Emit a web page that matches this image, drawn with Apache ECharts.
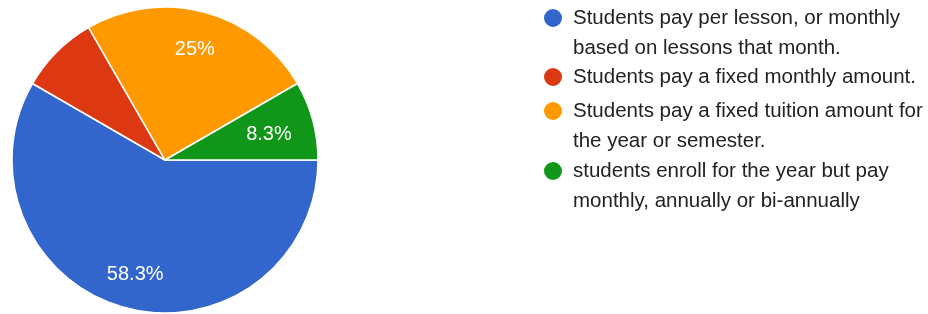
<!DOCTYPE html>
<html><head><meta charset="utf-8">
<script src="https://cdn.jsdelivr.net/npm/echarts@6/dist/echarts.min.js"></script>
<style>html,body{margin:0;padding:0;background:#fff}#c{width:928px;height:314px}</style>
</head><body><div id="c"></div><script>
const categories = [
  'Students pay per lesson, or monthly based on lessons that month.',
  'Students pay a fixed monthly amount.',
  'Students pay a fixed tuition amount for the year or semester.',
  'students enroll for the year but pay monthly, annually or bi-annually'
];
const legendLines = [
  ['Students pay per lesson, or monthly', 'based on lessons that month.'],
  ['Students pay a fixed monthly amount.'],
  ['Students pay a fixed tuition amount for', 'the year or semester.'],
  ['students enroll for the year but pay', 'monthly, annually or bi-annually']
];
const values = [7, 1, 3, 1];
const colors = ['#3366cc', '#dc3912', '#ff9900', '#109618'];
const showSliceLabel = [true, false, true, true];

const LINE_H = 30;
const iconCenters = [18, 77, 111, 171];
const FONT = 'Liberation Sans, Arial, sans-serif';
// small per-slice label nudges (style only)
const labelNudges = [[1, 0], [0, 0], [-1, 4], [-11, 5]];

const legends = categories.map((name, i) => {
  const lines = legendLines[i];
  const padded = new Array(lines.length - 1).fill(' ').concat(lines);
  const boxH = padded.length * LINE_H;
  return {
    data: [name],
    orient: 'vertical',
    left: 542,
    top: iconCenters[i] - boxH / 2,
    padding: 0,
    itemWidth: 30,
    itemHeight: 20,
    icon: 'circle',
    selectedMode: false,
    formatter: () => padded.join('\n'),
    textStyle: {
      fontSize: 20.5, lineHeight: LINE_H, color: '#222', fontFamily: FONT
    }
  };
});

const pieData = categories.map((name, i) => ({
  name, value: values[i], itemStyle: { color: colors[i] }
}));
const labelData = categories.map((name, i) => ({
  name, value: values[i],
  label: { show: showSliceLabel[i] }
}));

const chart = echarts.init(document.getElementById('c'), null, { renderer: 'canvas' });
chart.setOption({
  animation: false,
  color: colors,
  legend: legends,
  series: [
    {
      type: 'pie',
      center: [165, 160],
      radius: [0, 153],
      startAngle: 0,
      clockwise: true,
      avoidLabelOverlap: false,
      label: { show: false },
      labelLine: { show: false },
      itemStyle: { borderColor: '#fff', borderWidth: 1.5 },
      data: pieData
    },
    {
      type: 'pie',
      center: [165, 160],
      radius: [79, 153],
      startAngle: 0,
      clockwise: true,
      silent: true,
      avoidLabelOverlap: false,
      itemStyle: { color: 'rgba(0,0,0,0)', borderWidth: 0 },
      emphasis: { disabled: true },
      labelLine: { show: false },
      label: {
        position: 'inside',
        color: '#fff',
        fontSize: 20,
        fontFamily: FONT,
        formatter: p => (+p.percent.toFixed(1)) + '%'
      },
      labelLayout: p => ({ dx: labelNudges[p.dataIndex][0], dy: labelNudges[p.dataIndex][1] }),
      data: labelData
    }
  ]
});
</script></body></html>
